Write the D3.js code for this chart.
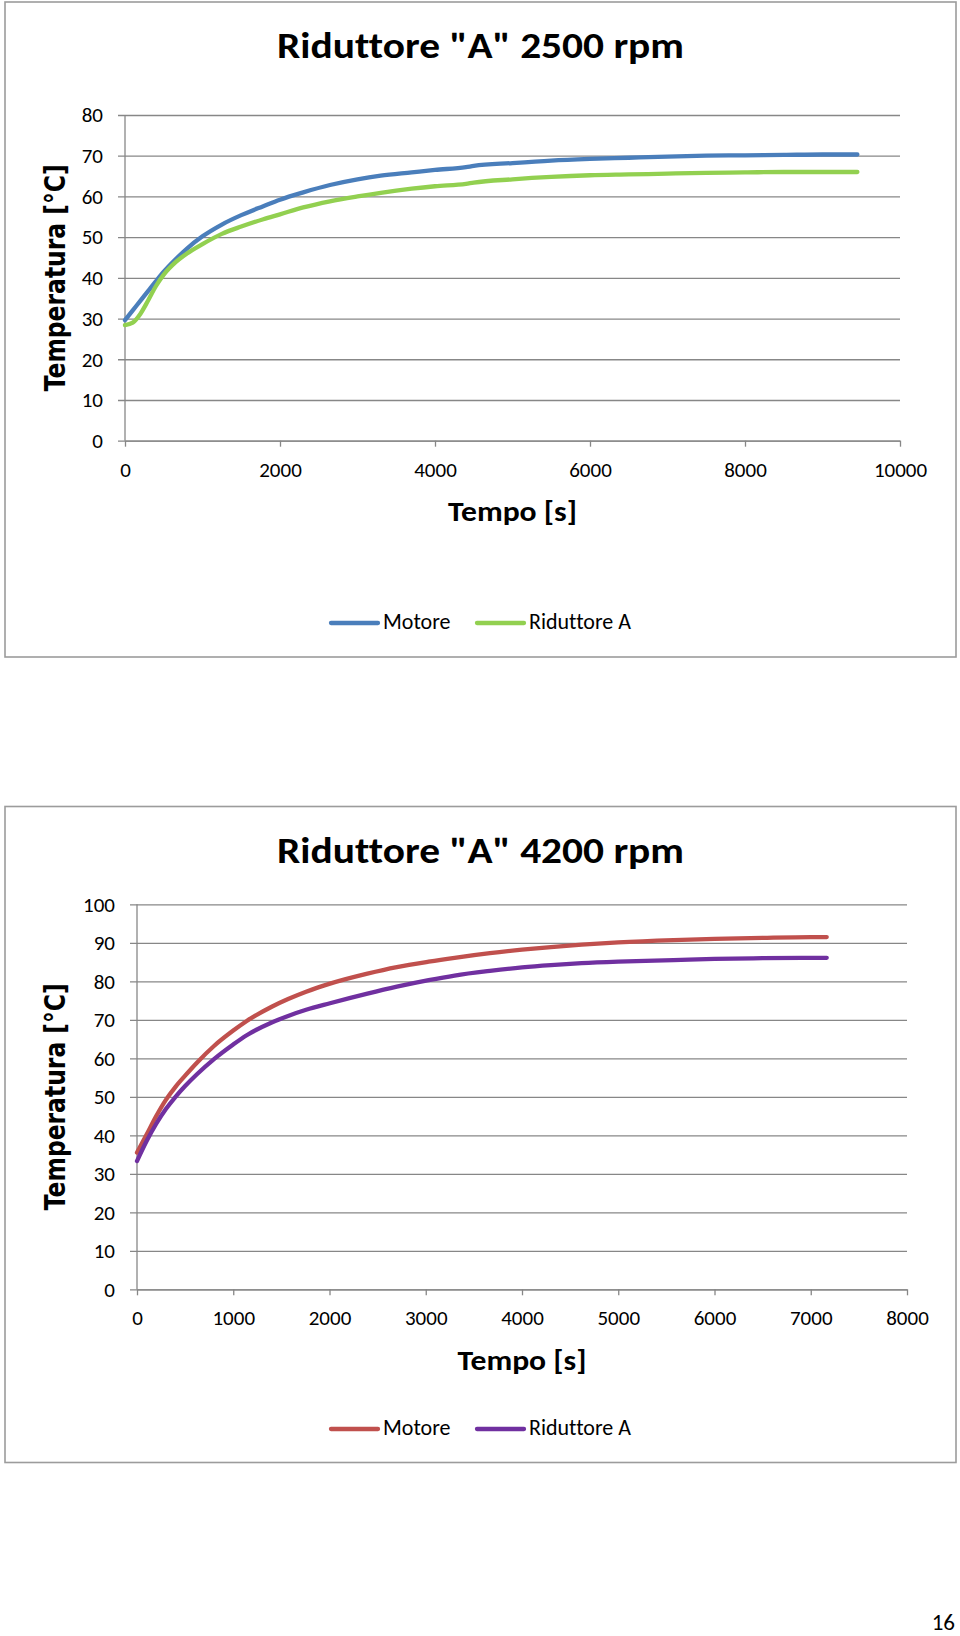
<!DOCTYPE html>
<html>
<head>
<meta charset="utf-8">
<script src="https://cdn.jsdelivr.net/npm/d3@7"></script>
<style>
  html, body { margin: 0; padding: 0; background: #ffffff; }
  svg { display: block; }
  text { font-variant-ligatures: none; font-feature-settings: "liga" 0; }
</style>
</head>
<body>
<svg id="page" width="960" height="1636"></svg>
<script>
// ---------- DATA ----------
// Chart 1: Riduttore "A" 2500 rpm
const time2500 = [0, 100, 200, 300, 400, 500, 650, 800, 1000, 1250, 1500, 1785, 2000, 2300, 2645, 3000, 3300, 3700, 4000, 4400, 4500, 5000, 5500, 6000, 6500, 7000, 7500, 8000, 8500, 9000, 9450];
const motore2500 = [29.6, 32.0, 34.4, 36.8, 39.2, 41.5, 44.5, 47.2, 50.2, 53.1, 55.4, 57.6, 59.2, 61.0, 62.8, 64.2, 65.1, 65.9, 66.5, 67.2, 67.5, 68.2, 68.8, 69.2, 69.5, 69.8, 70.0, 70.1, 70.2, 70.3, 70.3];
const riduttore2500 = [28.4, 29.0, 31.2, 34.5, 38.0, 40.8, 43.8, 46.0, 48.3, 50.8, 52.6, 54.4, 55.6, 57.3, 58.8, 60.0, 60.9, 61.9, 62.5, 63.1, 63.4, 64.2, 64.8, 65.2, 65.4, 65.6, 65.8, 65.9, 66.0, 66.0, 66.0];
const xTicks2500 = [0, 2000, 4000, 6000, 8000, 10000];
const yTicks2500 = [0, 10, 20, 30, 40, 50, 60, 70, 80];

// Chart 2: Riduttore "A" 4200 rpm
const time4200 = [0, 100, 200, 300, 400, 500, 620, 800, 1000, 1140, 1400, 1570, 1757, 2005, 2394, 2700, 3030, 3300, 3667, 4000, 4300, 4620, 5000, 5575, 6000, 6500, 7000, 7166];
const motore4200 = [35.5, 40.2, 45.0, 49.2, 52.6, 55.5, 58.8, 63.2, 67.2, 69.7, 73.4, 75.4, 77.3, 79.4, 82.0, 83.7, 85.1, 86.1, 87.3, 88.2, 88.9, 89.5, 90.1, 90.7, 91.0, 91.3, 91.5, 91.5];
const riduttore4200 = [33.3, 38.5, 43.0, 46.8, 50.0, 52.8, 55.8, 59.8, 63.6, 66.0, 69.3, 71.0, 72.6, 74.3, 76.8, 78.6, 80.3, 81.5, 82.7, 83.6, 84.2, 84.7, 85.1, 85.5, 85.8, 86.0, 86.1, 86.1];
const xTicks4200 = [0, 1000, 2000, 3000, 4000, 5000, 6000, 7000, 8000];
const yTicks4200 = [0, 10, 20, 30, 40, 50, 60, 70, 80, 90, 100];

const seriesNames = ["Motore", "Riduttore A"];
const titles = ['Riduttore "A" 2500 rpm', 'Riduttore "A" 4200 rpm'];
const xTitle = "Tempo [s]";
const yTitle = "Temperatura [°C]";
const pageNumber = "16";

// ---------- DRAWING ----------
const svg = d3.select("#page");
const GRID = "#878787";
const SANS = "Carlito, Calibri, Lato, sans-serif";

function drawChart(cfg) {
  const g = svg.append("g");

  // frame
  g.append("rect")
    .attr("x", cfg.box[0]).attr("y", cfg.box[1])
    .attr("width", cfg.box[2] - cfg.box[0]).attr("height", cfg.box[3] - cfg.box[1])
    .attr("fill", "#fff").attr("stroke", "#9c9c9c").attr("stroke-width", 1.6);

  const x = d3.scaleLinear().domain(cfg.xDomain).range(cfg.xRange);
  const y = d3.scaleLinear().domain(cfg.yDomain).range(cfg.yRange);

  // title
  g.append("text")
    .attr("x", (cfg.box[0] + cfg.box[2]) / 2).attr("y", cfg.titleY)
    .attr("text-anchor", "middle")
    .attr("font-family", SANS).attr("font-weight", "bold").attr("font-size", 37)
    .attr("textLength", 407).attr("lengthAdjust", "spacingAndGlyphs")
    .attr("fill", "#000").text(cfg.title);

  // y gridlines + ticks + labels
  const left = cfg.xRange[0], right = cfg.xRange[1];
  const yAxis = d3.axisLeft(y).tickValues(cfg.yTicks).tickSize(right - left + 7).tickSizeOuter(0).tickPadding(15);
  const ya = g.append("g").attr("transform", `translate(${right},0)`).call(yAxis);
  ya.select(".domain").remove();
  ya.selectAll(".tick line").attr("stroke", GRID).attr("stroke-width", 1.3);
  ya.selectAll(".tick text").attr("font-family", SANS).attr("font-size", 21).attr("fill", "#000");

  // y axis line
  g.append("line").attr("x1", left).attr("x2", left)
    .attr("y1", cfg.yRange[1]).attr("y2", cfg.yRange[0])
    .attr("stroke", GRID).attr("stroke-width", 1.3);

  // x axis
  const xAxis = d3.axisBottom(x).tickValues(cfg.xTicks).tickSize(6).tickSizeOuter(0).tickPadding(15).tickFormat(d3.format("d"));
  const xa = g.append("g").attr("transform", `translate(0,${cfg.yRange[0]})`).call(xAxis);
  xa.select(".domain").attr("stroke", GRID).attr("stroke-width", 1.3);
  xa.selectAll(".tick line").attr("stroke", GRID).attr("stroke-width", 1.3);
  xa.selectAll(".tick text").attr("font-family", SANS).attr("font-size", 21).attr("fill", "#000");

  // axis titles
  g.append("text")
    .attr("x", (left + right) / 2).attr("y", cfg.xTitleY)
    .attr("text-anchor", "middle")
    .attr("font-family", SANS).attr("font-weight", "bold").attr("font-size", 29)
    .attr("textLength", 129).attr("lengthAdjust", "spacingAndGlyphs")
    .attr("fill", "#000").text(xTitle);

  const ymid = (cfg.yRange[0] + cfg.yRange[1]) / 2;
  g.append("text")
    .attr("transform", `translate(65,${ymid}) rotate(-90)`)
    .attr("text-anchor", "middle")
    .attr("font-family", "DejaVu Sans, Verdana, sans-serif").attr("font-weight", "bold").attr("font-size", 28)
    .attr("textLength", 227).attr("lengthAdjust", "spacingAndGlyphs")
    .attr("fill", "#000").text(yTitle);

  // series lines
  const line = d3.line()
    .x(d => x(d[0])).y(d => y(d[1]))
    .curve(d3.curveMonotoneX);
  cfg.series.forEach((s, i) => {
    const pts = cfg.time.map((t, k) => [t, s[k]]);
    g.append("path").datum(pts)
      .attr("d", line)
      .attr("fill", "none").attr("stroke", cfg.colors[i])
      .attr("stroke-width", 4.3).attr("stroke-linecap", "round").attr("stroke-linejoin", "round");
  });

  // legend
  const legItems = [{ lx: 331, tx: 383 }, { lx: 477, tx: 529 }];
  seriesNames.forEach((name, i) => {
    g.append("line")
      .attr("x1", legItems[i].lx).attr("x2", legItems[i].lx + 47)
      .attr("y1", cfg.legendY - 6).attr("y2", cfg.legendY - 6)
      .attr("stroke", cfg.colors[i]).attr("stroke-width", 4.3).attr("stroke-linecap", "round");
    g.append("text")
      .attr("x", legItems[i].tx).attr("y", cfg.legendY)
      .attr("font-family", SANS).attr("font-size", 22).attr("fill", "#000")
      .text(name);
  });
}

drawChart({
  box: [5, 2, 956, 657],
  title: titles[0], titleY: 58,
  xDomain: [0, 10000], xRange: [125, 900],
  yDomain: [0, 80], yRange: [440.7, 115],
  xTicks: xTicks2500, yTicks: yTicks2500,
  xTitleY: 521, legendY: 629,
  time: time2500, series: [motore2500, riduttore2500],
  colors: ["#4A7EBB", "#92D050"]
});

drawChart({
  box: [5, 806.5, 956, 1462.5],
  title: titles[1], titleY: 863,
  xDomain: [0, 8000], xRange: [137, 907],
  yDomain: [0, 100], yRange: [1289.3, 904.3],
  xTicks: xTicks4200, yTicks: yTicks4200,
  xTitleY: 1370, legendY: 1435,
  time: time4200, series: [motore4200, riduttore4200],
  colors: ["#C0504D", "#7030A0"]
});

svg.append("text")
  .attr("x", 955).attr("y", 1630)
  .attr("text-anchor", "end")
  .attr("font-family", SANS).attr("font-size", 23).attr("fill", "#000")
  .text(pageNumber);
</script>
</body>
</html>
